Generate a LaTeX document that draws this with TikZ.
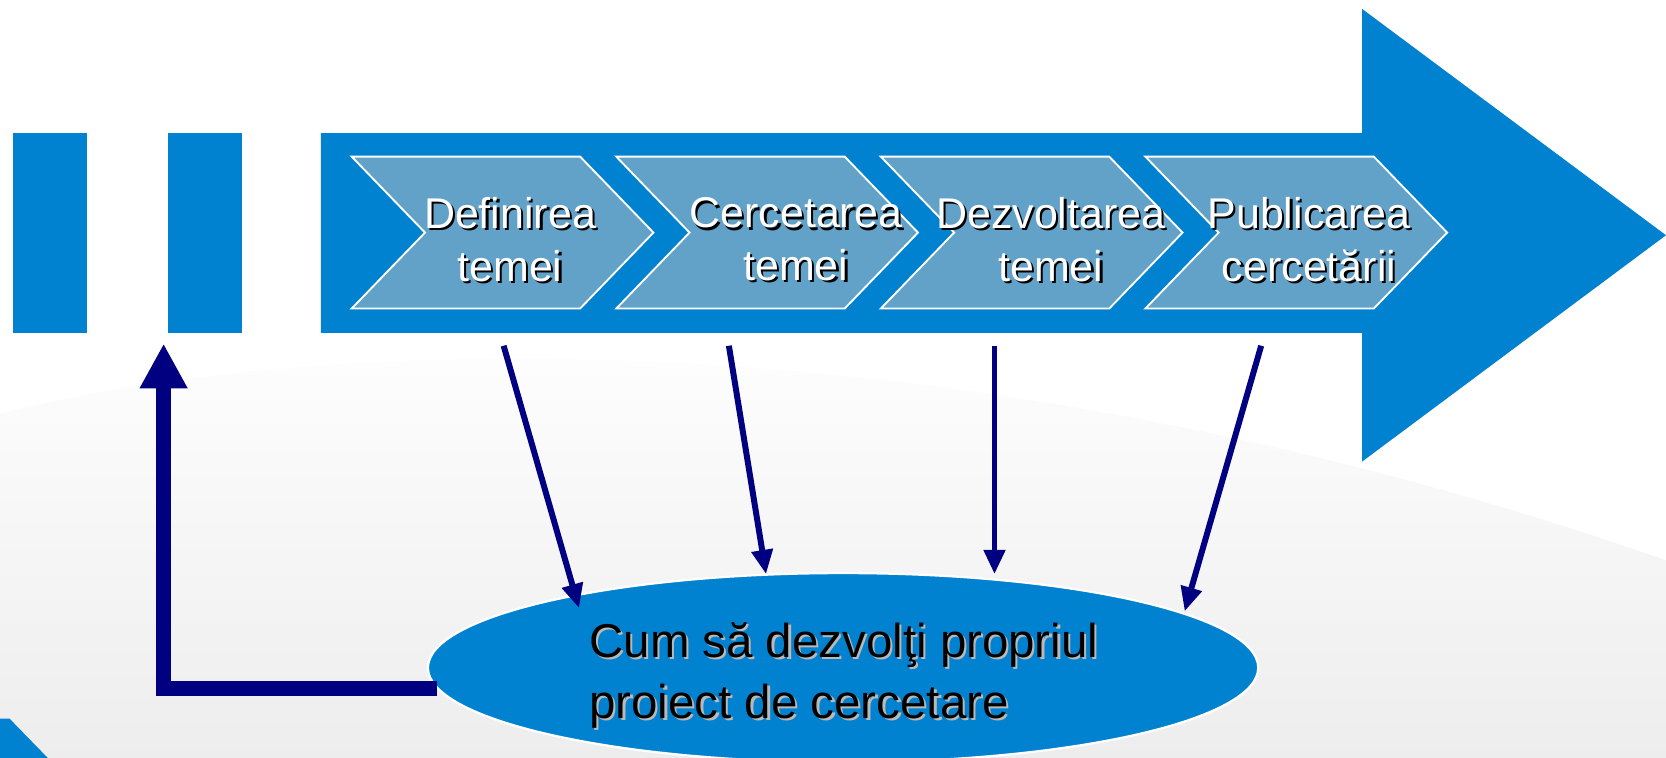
\documentclass[tikz,border=0pt]{standalone}
\usepackage{fontspec}
\setmainfont{Liberation Sans}
\usetikzlibrary{shapes.geometric,arrows.meta}
\definecolor{bandblue}{RGB}{0,130,208}
\definecolor{chevblue}{RGB}{98,162,201}
\definecolor{linknavy}{RGB}{0,0,128}
\newcommand{\shd}[2]{\makebox[0pt][l]{\kern0.6pt\raisebox{-0.6pt}{\color{#1}#2}}#2}
\tikzset{
	chev/.style={fill=chevblue, draw=white, line width=0.5pt},
	steplabel/.style={text=white, align=center, inner sep=0pt, font=\fontsize{11.5}{14.1}\selectfont},
	link/.style={draw=linknavy, line width=1.6pt, -{Triangle[width=5.5pt,length=6.5pt]}},
	backlink/.style={draw=linknavy, line width=4pt, -{Triangle[width=12pt,length=12pt]}}
}
\begin{document}
\begin{tikzpicture}[x=0.01cm, y=0.01cm]
				\useasboundingbox (0,0) rectangle (1568,713.4);
				\fill[white] (0,0) rectangle (1568,713.4);
				\shade[top color=white, bottom color=gray!14] (0,324) .. controls (300,400) and (900,420) .. (1568,186) -- (1568,0) -- (0,0) -- cycle;
				\fill[bandblue] (0,37) -- (9,37) -- (45,0) -- (0,0) -- cycle;
				\fill[bandblue] (12,400) rectangle (82,588);
				\fill[bandblue] (158,400) rectangle (228,588);
				\fill[bandblue] (302,400) -- (1282,400) -- (1282,279) -- (1568,492) -- (1282,705) -- (1282,588) -- (302,588) -- cycle;
				\foreach \i in {0,...,3}
					\filldraw[chev] ({331+249*\i},566) -- ({546+249*\i},566) -- ({615+249*\i},494.5) -- ({546+249*\i},423) -- ({331+249*\i},423) -- ({400+249*\i},494.5) -- cycle;
				\node[steplabel] (def) at (480,487) {\shd{black}{Definirea}\\\shd{black}{temei}};
				\node[steplabel] (cer) at (749,487) {\shd{black}{Cercetarea}\\\shd{black}{temei}};
				\node[steplabel] (dez) at (989,487) {\shd{black}{Dezvoltarea}\\\shd{black}{temei}};
				\node[steplabel] (pub) at (1232,487) {\shd{black}{Publicarea}\\\shd{black}{cercetării}};
				\node[ellipse, fill=bandblue, draw=white, line width=0.6pt, minimum width=7.81cm, minimum height=1.78cm, inner sep=0pt] (goal) at (793.5,85) {};
				\node[anchor=west, align=left, inner sep=0pt, font=\fontsize{12.7}{16.3}\selectfont] (goaltext) at (554,77) {\shd{gray!55}{Cum să dezvolţi propriul}\\\shd{gray!55}{proiect de cercetare}};
				\coordinate (s1) at (474,388);
				\coordinate (s2) at (686,388);
				\coordinate (s3) at (936,388);
				\coordinate (s4) at (1187,388);
				\coordinate (e1) at (545,141);
				\coordinate (e2) at (721,173);
				\coordinate (e3) at (936,173);
				\coordinate (e4) at (1115,138);
				\draw[link] (s1) -- (e1);
				\draw[link] (s2) -- (e2);
				\draw[link] (s3) -- (e3);
				\draw[link] (s4) -- (e4);
				\coordinate (fbtip) at (154,390);
				\draw[backlink] (goal.183) -| (fbtip);
			\end{tikzpicture}
\end{document}
